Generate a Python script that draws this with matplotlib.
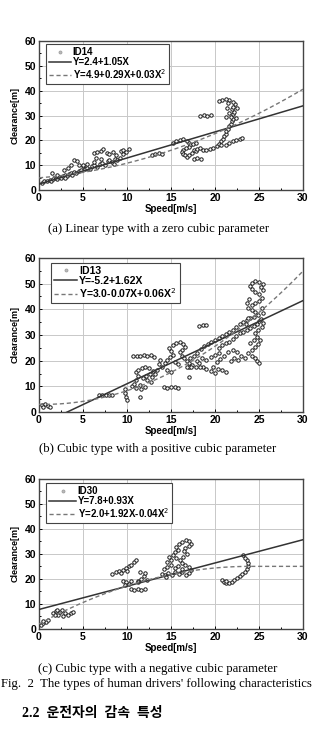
import matplotlib.pyplot as plt
from matplotlib.lines import Line2D
import numpy as np

# ---- panel (a) ID14 ----
a_x = [0.3, 0.6, 0.9, 1.2, 1.4, 1.6, 1.9, 2.1, 2.3, 2.5, 2.7, 3.0, 3.2, 3.4, 3.6, 3.8, 4.0, 4.2, 4.5, 4.8,
       1.5, 2.8, 3.3, 3.6, 4.0, 4.3, 4.6, 5.0, 2.0, 3.0,
       5.2, 5.5, 5.8, 6.0, 6.3, 6.6, 6.9, 7.2, 7.5, 7.8, 8.0, 8.3, 8.6, 8.9, 9.2, 5.5, 6.2, 5.0,
       6.2, 6.6, 7.0, 7.3, 7.7, 8.0, 8.4, 8.8, 9.3, 9.6, 9.9, 10.2, 9.5, 8.5, 7.0, 6.5,
       12.8, 13.2, 13.6, 14.0, 15.2, 15.6, 16.0, 16.4,
       16.8, 17.0, 17.2, 17.0, 16.7, 16.4, 16.2, 16.4, 16.6, 16.8, 17.1, 17.4, 17.6, 17.8, 18.0, 18.3,
       17.5, 17.8, 18.6, 19.0, 19.4, 19.8, 20.2, 20.5, 20.7, 20.9, 21.0, 21.2, 21.3, 21.5, 21.6, 21.8,
       21.9, 22.0, 21.8, 22.0, 22.2, 21.9, 22.1, 22.3, 22.0, 21.6, 21.2, 20.8, 20.4, 21.5, 21.4, 21.6,
       21.3, 22.4, 22.5,
       18.3, 18.7, 19.1, 19.5,
       21.3, 21.6, 22.0, 22.4, 22.8, 23.1, 20.7,
       17.6, 18.0, 18.4]
a_y = [3.0, 3.5, 3.8, 4.2, 3.6, 4.6, 5.0, 4.4, 5.4, 5.0, 5.8, 6.2, 5.6, 6.6, 7.0, 6.0, 7.4, 6.8, 7.8, 8.2,
       7.0, 8.0, 9.0, 10.0, 12.0, 11.6, 10.0, 9.5, 6.2, 4.8,
       8.6, 9.0, 8.4, 9.6, 10.0, 9.2, 10.4, 11.0, 10.2, 11.6, 12.2, 11.4, 12.6, 12.0, 13.0, 10.4, 11.2, 10.0,
       15.0, 15.2, 15.6, 16.4, 15.0, 14.6, 15.4, 14.2, 15.6, 16.2, 15.2, 16.4, 14.6, 10.5, 12.5, 13.0,
       14.0, 14.6, 15.0, 14.4, 19.0, 19.6, 20.0, 20.4,
       19.8, 19.0, 18.2, 17.4, 16.8, 16.2, 15.4, 14.6, 14.0, 13.4, 14.0, 15.0, 16.0, 15.6, 16.4, 17.0,
       18.4, 19.0, 16.2, 16.0, 16.4, 17.0, 17.8, 18.6, 19.6, 20.6, 21.6, 22.6, 23.6, 24.6, 25.6, 26.6,
       27.6, 28.6, 29.6, 30.6, 31.6, 32.6, 33.6, 34.6, 35.6, 36.4, 36.8, 36.2, 36.0, 35.0, 33.0, 31.0,
       29.4, 29.0, 33.0,
       29.8, 30.2, 29.8, 30.2,
       18.0, 19.0, 19.6, 20.2, 20.6, 21.0, 18.0,
       12.4, 13.0, 12.6]

# ---- panel (b) ID13 ----
b_x = [0.3, 0.7, 1.0, 1.3, 0.5,
       6.8, 7.2, 7.6, 8.0, 8.3, 9.8, 9.8, 9.9, 10.0, 11.5,
       10.6, 10.8, 11.0, 11.2, 11.0, 11.3, 11.7, 12.1, 12.5, 12.9, 12.6, 12.2, 11.8, 12.3, 12.7, 11.5,
       11.0, 11.6, 12.0, 12.8, 13.2, 13.4,
       10.7, 11.1, 11.5, 11.9, 12.3, 12.7, 13.1,
       14.0, 14.3, 14.6, 14.9, 15.2, 15.0, 14.8, 15.2, 15.6, 16.0, 16.4, 16.6, 16.3, 16.0, 16.2, 16.5,
       16.8, 17.1, 17.4, 17.0, 15.5, 15.8, 14.5, 15.0, 13.6, 13.8,
       14.2, 14.6, 15.0, 15.4, 15.8, 17.0,
       18.2, 18.6, 19.0,
       17.2, 17.6, 18.0, 18.4, 18.8, 19.2, 19.6, 20.0, 20.4, 20.8, 21.2, 21.6, 22.0, 22.4, 22.8, 23.2,
       23.6, 24.0, 24.4,
       18.0, 18.5, 19.0, 19.5, 20.0, 20.5, 21.0, 21.5, 22.0, 22.5, 23.0, 23.4, 22.6, 22.2, 21.8, 20.6,
       20.2, 19.8, 20.3, 20.8, 21.3, 20.0, 19.5,
       20.4, 20.8, 21.2, 21.6, 22.0, 22.4, 22.8, 23.2, 23.6, 24.0, 24.4, 24.8, 25.0,
       24.2, 24.6, 24.9, 25.1, 24.8, 24.5, 24.9, 25.3, 25.5, 25.2, 24.9, 24.6, 24.2, 23.8, 24.2, 24.6,
       25.0, 25.3, 25.0, 24.6, 24.2, 24.0, 24.2, 24.6, 25.0, 25.4, 25.2, 25.5, 23.9, 23.6, 25.3, 25.5,
       23.8, 23.5,
       23.8, 24.2, 24.5, 24.8, 25.0, 24.0, 24.4,
       18.2, 18.6, 19.0, 16.8, 17.3, 17.8, 18.3]
b_y = [2.8, 3.0, 2.2, 2.0, 2.0,
       6.8, 6.6, 6.8, 6.6, 6.8, 9.0, 7.5, 6.0, 4.8, 5.8,
       10.0, 11.0, 12.5, 14.0, 15.5, 16.5, 17.2, 17.6, 17.0, 16.0, 15.0, 14.2, 13.2, 12.4, 11.6, 10.4,
       9.4, 8.8, 9.6, 13.6, 15.0, 16.4,
       21.8, 22.0, 21.8, 22.2, 22.0, 22.2, 21.6,
       17.6, 19.0, 20.2, 21.4, 22.4, 23.6, 24.8, 26.0, 26.8, 27.2, 26.6, 25.4, 24.2, 23.2, 22.0, 21.0,
       20.0, 19.2, 18.4, 17.6, 19.6, 18.6, 16.4, 15.4, 18.8, 20.4,
       9.6, 9.4, 9.6, 9.8, 9.4, 13.7,
       33.4, 33.8, 34.0,
       21.0, 22.0, 23.0, 24.4, 25.6, 26.4, 27.2, 28.0, 28.8, 29.6, 30.2, 31.0, 32.0, 33.0, 34.2, 35.0,
       35.8, 36.6, 37.0,
       20.0, 21.0, 20.4, 21.6, 22.4, 23.0, 22.0, 23.4, 24.0, 23.2, 22.0, 21.0, 20.4, 21.2, 20.0, 20.6,
       19.4, 17.4, 16.8, 16.2, 15.6, 15.2, 16.0,
       25.0, 26.0, 26.8, 27.4, 28.4, 29.6, 30.6, 31.2, 32.0, 32.8, 33.4, 34.4, 35.4,
       24.0, 25.2, 26.6, 28.0, 29.4, 30.6, 31.8, 33.0, 34.6, 36.2, 37.6, 38.8, 39.8, 40.6, 41.6, 42.6,
       43.4, 44.6, 45.8, 46.8, 47.8, 49.0, 50.4, 51.0, 50.8, 50.0, 48.6, 47.4, 44.0, 42.6, 40.4, 38.6,
       36.8, 34.4,
       23.0, 22.0, 21.0, 20.0, 19.0, 27.0, 28.0,
       19.0, 17.6, 16.6, 17.5, 17.4, 17.6, 17.4]

# ---- panel (c) ID30 ----
c_x = [0.2, 0.5, 0.8, 1.0, 0.4,
       1.6, 1.9, 2.2, 2.4, 2.7, 3.0, 3.3, 3.6, 3.9, 2.1, 2.6, 1.8,
       8.3, 8.7, 9.1, 9.5, 9.9, 10.2, 10.5, 10.8, 11.0, 9.3, 10.0,
       9.5, 9.9, 10.2, 10.5, 9.8,
       10.4, 10.8, 11.2, 11.6, 12.0,
       11.3, 11.6, 11.9, 12.1, 11.5, 12.3, 11.2,
       14.0, 14.3, 14.7, 15.1, 15.5, 15.9, 16.3, 16.7, 17.1, 17.3, 14.2, 14.6, 15.0, 15.4, 15.8, 16.2,
       16.6, 17.0, 14.5, 15.0, 14.8, 15.2, 15.5, 15.8, 15.6, 15.9, 16.3, 16.7, 17.1, 17.3, 17.0, 16.6,
       16.5, 16.8, 16.4, 16.0, 15.6, 16.2, 14.4,
       20.8, 21.0, 21.3, 21.6, 21.9, 22.2, 22.5, 22.8, 23.1, 23.4, 23.6, 23.8, 23.7, 23.6, 23.4, 23.2,
       21.2]
c_y = [1.6, 2.2, 2.8, 3.4, 3.0,
       6.2, 7.0, 5.6, 6.6, 5.2, 6.2, 5.4, 6.4, 6.8, 7.6, 7.4, 5.4,
       22.0, 22.6, 23.0, 23.6, 24.2, 25.0, 25.6, 26.6, 27.6, 22.2, 23.2,
       19.2, 18.6, 18.0, 19.0, 17.6,
       16.0, 15.6, 15.8, 15.4, 15.8,
       19.0, 20.0, 21.2, 22.4, 22.8, 19.4, 18.6,
       22.0, 21.4, 22.4, 21.6, 22.6, 21.8, 22.6, 21.6, 22.2, 23.4, 23.8, 24.8, 25.6, 24.4, 25.2, 24.0,
       25.4, 24.6, 26.6, 27.4, 28.6, 29.6, 30.6, 31.6, 32.8, 33.8, 34.8, 35.6, 35.2, 34.0, 33.0, 32.2,
       31.0, 29.8, 28.6, 27.6, 28.4, 26.4, 20.6,
       19.6, 18.6, 18.2, 18.4, 18.8, 19.4, 20.2, 21.0, 21.8, 22.8, 24.0, 25.2, 26.4, 27.4, 28.4, 29.4,
       19.2]

# fit coefficients from the legends (constant, X, X^2)
ids = ["ID14", "ID13", "ID30"]
lin_fit = [[2.4, 1.05], [-5.2, 1.62], [7.8, 0.93]]
quad_fit = [[4.9, 0.29, 0.03], [3.0, -0.07, 0.06], [2.0, 1.92, -0.04]]
lin_labels = ["Y=2.4+1.05X", "Y=-5.2+1.62X", "Y=7.8+0.93X"]
quad_labels = ["Y=4.9+0.29X+0.03X$^2$", "Y=3.0-0.07X+0.06X$^2$", "Y=2.0+1.92X-0.04X$^2$"]
captions = ["(a) Linear type with a zero cubic parameter",
            "(b) Cubic type with a positive cubic parameter",
            "(c) Cubic type with a negative cubic parameter"]

xs = [a_x, b_x, c_x]
ys = [a_y, b_y, c_y]

fig = plt.figure(figsize=(3.13, 7.3), dpi=100)
sans = "Liberation Sans"
serif = "Liberation Serif"

# axes boxes [left, bottom, width, height]
boxes = [[0.1246, 0.7397, 0.8435, 0.2041],
         [0.1246, 0.4356, 0.8435, 0.2110],
         [0.1246, 0.1384, 0.8435, 0.2055]]
cap_y = [0.686, 0.385, 0.084]
leg_anchor = [(0.027, 0.98), (0.045, 0.968), (0.027, 0.973)]
leg_hlen = [2.3, 2.2, 2.8]
leg_size = [7, 7.6, 7]

for i in range(3):
    ax = fig.add_axes(boxes[i])
    ax.scatter(xs[i], ys[i], s=6, facecolors="white", edgecolors="#1a1a1a",
               linewidths=0.7, zorder=3)
    xx = np.linspace(0, 30, 300)
    c0, c1 = lin_fit[i]
    ax.plot(xx, c0 + c1 * xx, color="#333333", lw=1.1, zorder=4)
    q0, q1, q2 = quad_fit[i]
    if q2 < 0:
        xq = np.minimum(xx, -q1 / (2 * q2))  # hold flat past the vertex
    else:
        xq = xx
    ax.plot(xx, q0 + q1 * xq + q2 * xq ** 2, color="#777777", lw=1.0,
            ls=(0, (3, 2)), zorder=4)

    ax.set_xlim(0, 30)
    ax.set_ylim(0, 60)
    ax.set_xticks(range(0, 31, 5))
    ax.set_yticks(range(0, 61, 10))
    ax.set_xticks(np.arange(0, 30.1, 2.5), minor=True)
    ax.set_yticks(range(0, 61, 5), minor=True)
    ax.grid(True, color="#c8c8c8", lw=0.7)
    ax.set_axisbelow(True)
    ax.tick_params(direction="in", which="both", length=2.5, width=0.7,
                   labelsize=7.5, pad=2)
    ax.tick_params(which="minor", length=1.5)
    for lab in ax.get_xticklabels() + ax.get_yticklabels():
        lab.set_fontfamily(sans)
        lab.set_fontweight("bold")
    for sp in ax.spines.values():
        sp.set_color("#444444")
        sp.set_linewidth(1.0)
    ax.set_xlabel("Speed[m/s]", fontfamily=sans, fontweight="bold", fontsize=7, labelpad=1)
    ax.set_ylabel("Clearance[m]", fontfamily=sans, fontweight="bold", fontsize=6.5, labelpad=4)

    handles = [Line2D([], [], ls="none", marker="o", ms=2.2, mfc="#bbbbbb", mec="#999999", mew=0.5),
               Line2D([], [], color="#333333", lw=1.1),
               Line2D([], [], color="#777777", lw=1.0, ls=(0, (3, 2)))]
    leg = ax.legend(handles, [ids[i], lin_labels[i], quad_labels[i]], loc="upper left",
                    bbox_to_anchor=leg_anchor[i], borderaxespad=0, fancybox=False,
                    framealpha=1, edgecolor="#444444", handlelength=leg_hlen[i],
                    handletextpad=0.15, borderpad=0.3, labelspacing=0.0,
                    prop={"family": sans, "weight": "bold", "size": leg_size[i]})
    leg.get_frame().set_linewidth(0.8)

    fig.text(0.505, cap_y[i], captions[i], ha="center", va="center",
             fontfamily=serif, fontsize=9.2)

fig.text(0.5, 0.063, "Fig.  2  The types of human drivers' following characteristics",
         ha="center", va="center", fontfamily=serif, fontsize=9.2)
fig.text(0.07, 0.022, "2.2  운전자의  감속  특성", ha="left", va="center",
         fontfamily=[serif, "Noto Sans CJK KR"], fontsize=10, fontweight="bold")

fig.savefig("out.png", dpi=100)
